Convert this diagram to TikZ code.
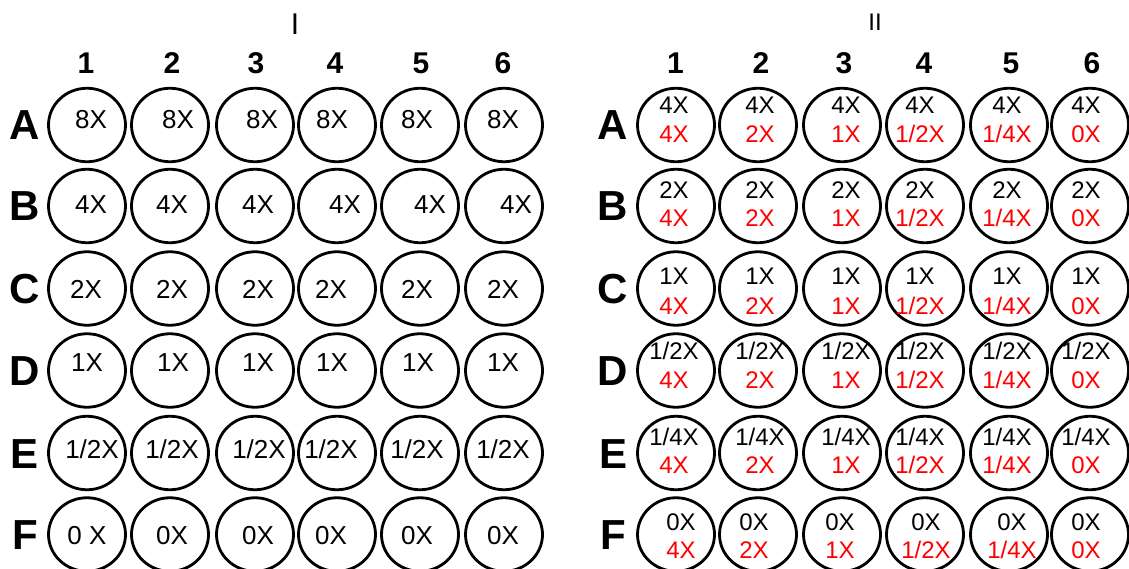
\documentclass[tikz,border=0pt]{standalone}
\usepackage{fontspec}
\setmainfont{Liberation Sans}
\usetikzlibrary{shapes.geometric}

\newcommand{\dhalf}{1/2}
\newcommand{\dquart}{1/4}

\begin{document}
\begin{tikzpicture}[
    x=1pt, y=-1pt,
    well/.style={draw, ellipse, line width=2.8pt, minimum width=77pt, minimum height=73.5pt, inner sep=0pt},
    doseL/.style={inner sep=0pt, text height=18.6pt, text depth=0pt, font=\fontsize{26}{30}\selectfont},
    doseA/.style={inner sep=0pt, text height=17.2pt, text depth=0pt, font=\fontsize{24}{28}\selectfont},
    doseB/.style={doseA, text=red},
    colhead/.style={inner sep=0pt, text height=21.5pt, text depth=0pt, font=\bfseries\fontsize{30}{34}\selectfont},
    rowhead/.style={inner sep=0pt, text height=30pt, text depth=0pt, font=\bfseries\fontsize{42}{46}\selectfont},
    platetitle/.style={inner sep=0pt, text depth=0pt}
]
\useasboundingbox (0,0) rectangle (1129,569);

% plate I
\node[platetitle, text height=21.7pt, font=\fontsize{30}{34}\selectfont] (titleI) at (295,24) {I};
\foreach \col/\x in {1/86,2/172,3/256,4/335,5/421,6/503}
    \node[colhead] (L-col\col) at (\x,63) {\col};
\foreach \r/\y in {A/125,B/206,C/288.5,D/370.5,E/453,F/534.5}{
    \node[rowhead] (L-row\r) at (25,\y) {\r};
    \foreach \col/\x in {1/87,2/170,3/255,4/337,5/420,6/504}
        \node[well] (L-\r\col) at (\x,\y) {};
}
\foreach \r/\ty/\cells in {
    A/119/{91/8X,178/8X,262/8X,332/8X,417/8X,503/8X},
    B/204.5/{91/4X,172/4X,258/4X,345/4X,430/4X,516/4X},
    C/289/{86/2X,172/2X,258/2X,331/2X,417/2X,503/2X},
    D/362/{87/1X,173/1X,258/1X,332/1X,418/1X,503/1X},
    E/449/{92/\dhalf X,172/\dhalf X,259/\dhalf X,331/\dhalf X,417/\dhalf X,503/\dhalf X},
    F/535/{87/0 X,172/0X,258/0X,331/0X,417/0X,503/0X}}{
    \foreach \tx/\dose [count=\col] in \cells
        \node[doseL] (L-\r\col-dose) at (\tx,\ty) {\dose};
}

% plate II
\node[platetitle, text height=17.4pt, font=\fontsize{24}{28}\selectfont] (titleII) at (875,22) {II};
\foreach \col/\x in {1/675.5,2/761,3/844,4/924,5/1011,6/1092}
    \node[colhead] (R-col\col) at (\x,62.5) {\col};
\foreach \r/\y/\topy/\boty/\f/\dose in {A/125/104.5/133.5/0/4X, B/206/190/217.5/0/2X,
    C/288.5/276/305.5/0/1X, D/370.5/351/380/0/\dhalf X, E/453/436.5/465/0/\dquart X,
    F/534.5/522/550/1/0X}{
    \node[rowhead] (R-row\r) at (613,\y) {\r};
    \foreach \col/\x/\tx/\fx/\mix in {1/676/674/681/4X, 2/758/760/754/2X, 3/842/846/840/1X,
        4/925/920/926/\dhalf X, 5/1009/1007/1012/\dquart X, 6/1090/1086/1086/0X}{
        \node[well] (R-\r\col) at (\x,\y) {};
        \node[doseA] (R-\r\col-top) at ({\tx+\f*(\fx-\tx)},\topy) {\dose};
        \node[doseB] (R-\r\col-bot) at ({\tx+\f*(\fx-\tx)},\boty) {\mix};
    }
}
\end{tikzpicture}
\end{document}
